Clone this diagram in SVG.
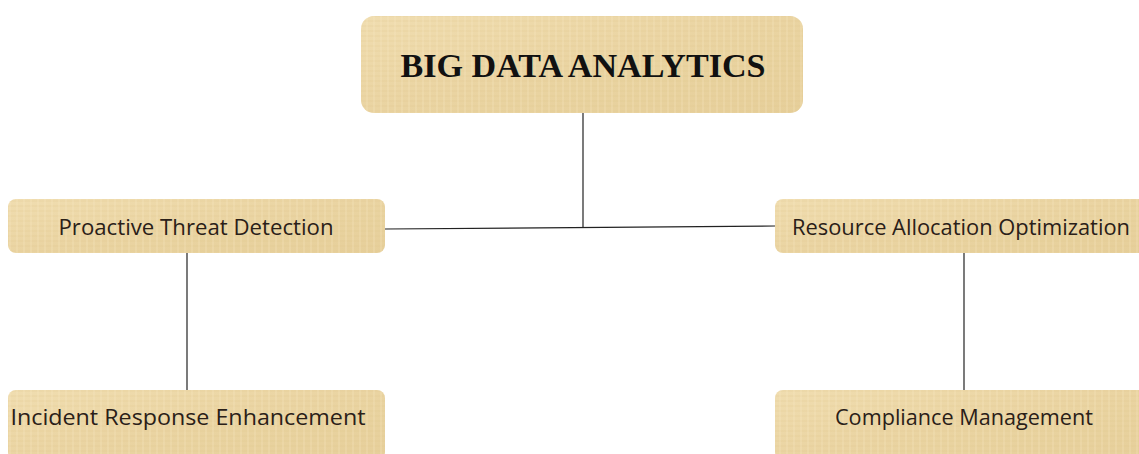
<svg xmlns="http://www.w3.org/2000/svg" width="1139" height="454" viewBox="0 0 1139 454">
  <defs>
    <linearGradient id="pap" x1="0" y1="0" x2="1" y2="1">
      <stop offset="0" stop-color="#F0DDB0"/>
      <stop offset="0.5" stop-color="#EAD4A2"/>
      <stop offset="1" stop-color="#E6CF9A"/>
    </linearGradient>
    <pattern id="fib" width="7" height="5" patternUnits="userSpaceOnUse">
      <rect width="7" height="5" fill="none"/>
      <line x1="0" y1="1" x2="7" y2="1" stroke="#D9BF86" stroke-width="0.6" stroke-opacity="0.5"/>
      <line x1="3" y1="0" x2="3" y2="5" stroke="#F7EAC8" stroke-width="0.8" stroke-opacity="0.5"/>
    </pattern>
  </defs>
  <style>
    .box { fill: url(#pap); }
    .tex { fill: url(#fib); }
    .lbl { font-family: "Open Sans", "Noto Sans", "Liberation Sans", sans-serif; font-size: 21px; fill: #2a2018; text-anchor: middle; }
    .title { font-family: "Liberation Serif", "Times New Roman", serif; font-weight: bold; font-size: 33px; fill: #111; text-anchor: middle; }
    .conn { stroke: #222; stroke-width: 1.2; fill: none; }
  </style>
  <rect width="1139" height="454" fill="#ffffff"/>
  <g id="connectors">
    <line class="conn" x1="583" y1="112" x2="583" y2="228"/>
    <line class="conn" x1="385" y1="229" x2="775" y2="226"/>
    <line class="conn" x1="187" y1="253" x2="187" y2="390"/>
    <line class="conn" x1="964" y1="253" x2="964" y2="390"/>
  </g>
  <g id="node-bigdata">
    <rect class="box" x="361" y="16" width="442" height="97" rx="13"/>
    <rect class="tex" x="361" y="16" width="442" height="97" rx="13"/>
    <text class="title" x="583" y="77" textLength="365" lengthAdjust="spacingAndGlyphs">BIG DATA ANALYTICS</text>
  </g>
  <g id="node-proactive">
    <rect class="box" x="8" y="199" width="377" height="54" rx="8"/>
    <rect class="tex" x="8" y="199" width="377" height="54" rx="8"/>
    <text class="lbl" x="196" y="235" textLength="275" lengthAdjust="spacingAndGlyphs">Proactive Threat Detection</text>
  </g>
  <g id="node-resource">
    <rect class="box" x="775" y="199" width="372" height="54" rx="8"/>
    <rect class="tex" x="775" y="199" width="372" height="54" rx="8"/>
    <text class="lbl" x="961" y="235" textLength="338" lengthAdjust="spacingAndGlyphs">Resource Allocation Optimization</text>
  </g>
  <g id="node-incident">
    <rect class="box" x="8" y="390" width="377" height="70" rx="8"/>
    <rect class="tex" x="8" y="390" width="377" height="70" rx="8"/>
    <text class="lbl" x="188" y="425" textLength="355" lengthAdjust="spacingAndGlyphs">Incident Response Enhancement</text>
  </g>
  <g id="node-compliance">
    <rect class="box" x="775" y="390" width="372" height="70" rx="8"/>
    <rect class="tex" x="775" y="390" width="372" height="70" rx="8"/>
    <text class="lbl" x="964" y="425" textLength="258" lengthAdjust="spacingAndGlyphs">Compliance Management</text>
  </g>
</svg>
